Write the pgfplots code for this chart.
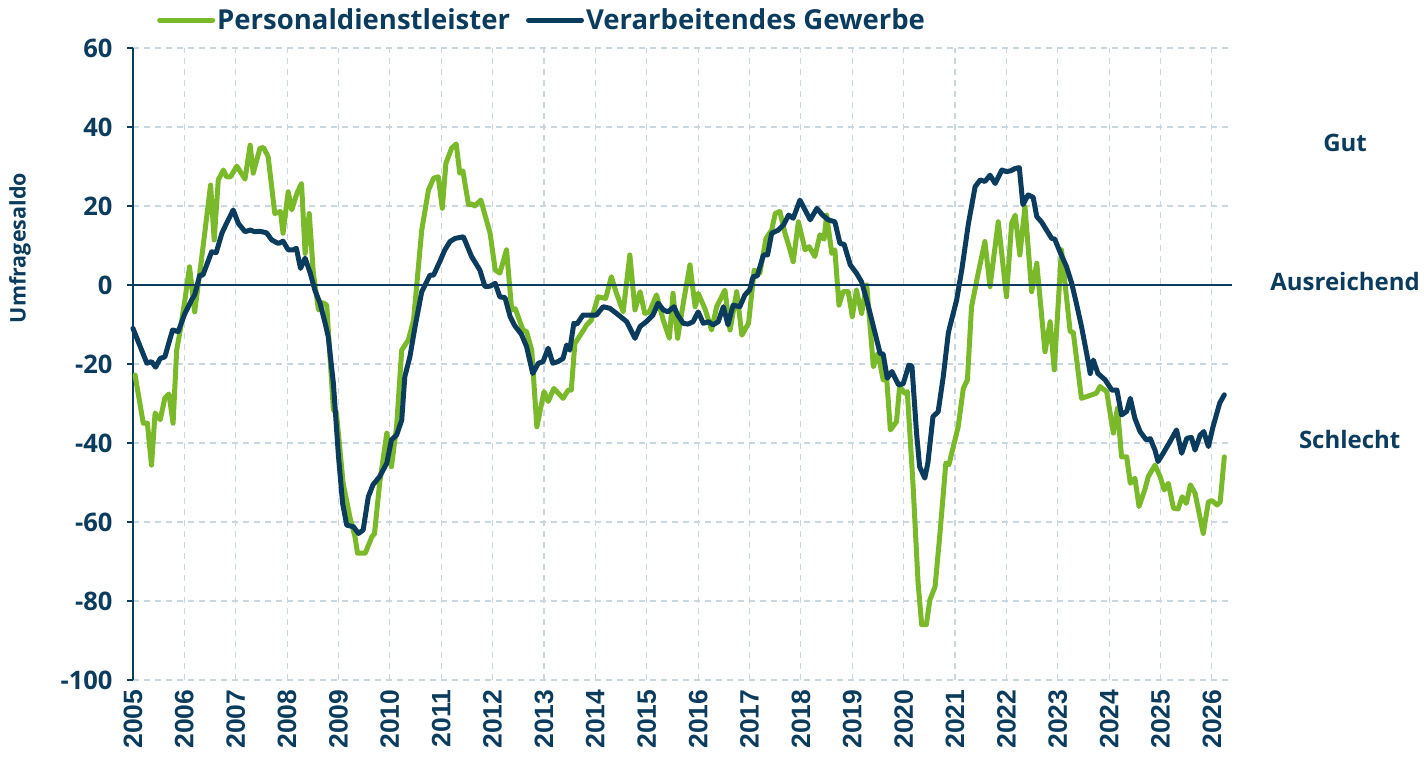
\documentclass[border=0pt]{standalone}
\usepackage{pgfplots}
\pgfplotsset{compat=1.18}
\usepackage{fontspec}
\setmainfont{Open Sans}
\newfontfamily\libsans{Liberation Sans}
\definecolor{navy}{HTML}{0B3C5D}
\definecolor{lgreen}{HTML}{7AB929}
\definecolor{gridc}{HTML}{C9D7E1}
\begin{document}
\begin{tikzpicture}[x=1bp,y=1bp]
\useasboundingbox (0,0) rectangle (1424,756);
\begin{axis}[
  at={(133bp,76bp)}, anchor=south west,
  scale only axis, width=1099bp, height=632bp,
  xmin=2005, xmax=2026.39, ymin=-100, ymax=60,
  xtick={2005,...,2026}, ytick={-100,-80,...,60},
  axis x line*=bottom, axis y line*=left,
  x axis line style={draw=none},
  y axis line style={draw=navy, line width=1.5bp},
  xtick style={draw=none},
  ytick style={draw=navy, line width=1.3bp},
  tick align=outside, major tick length=6bp,
  grid=major,
  major grid style={color=gridc, line width=1.2bp, dash pattern=on 6bp off 5bp},
  /pgf/number format/assume math mode=true,
  /pgf/number format/1000 sep={},
  xticklabel style={rotate=90, anchor=east, text=navy, font=\libsans\bfseries\fontsize{26.5bp}{26.5bp}\selectfont},
  yticklabel style={text=navy, xshift=-11bp, font=\bfseries\fontsize{25.5bp}{25.5bp}\selectfont},
  ylabel={Umfragesaldo},
  ylabel style={at={(axis description cs:-0.1028,0.6835)}, anchor=center, text=navy, font=\bfseries\fontsize{21.5bp}{21.5bp}\selectfont},
  clip=false,
  legend columns=2,
  legend style={at={(axis description cs:0.0218,1.044)}, anchor=west, draw=none, fill=none, inner sep=0pt, text=navy, font=\bfseries\fontsize{27.5bp}{27.5bp}\selectfont, /tikz/every even column/.append style={column sep=14bp}},
  legend image code/.code={\draw[#1, line width=5bp] (0bp,0bp) -- (53bp,0bp);},
  every axis plot/.append style={line width=5bp, line join=round, line cap=round},
]
\addplot[lgreen] coordinates {
(2005.04,-22.8) (2005.2,-35) (2005.28,-35) (2005.36,-45.6) (2005.43,-32.4) (2005.53,-34.1) (2005.62,-28.6) (2005.7,-27.6) (2005.78,-35) (2005.85,-16.5) (2005.92,-11.4) (2006.01,-3.8) (2006.1,4.6) (2006.2,-6.8) (2006.34,7.2) (2006.51,25.3) (2006.58,11.4) (2006.66,26.6) (2006.76,29.1) (2006.82,27.4) (2006.9,27.4) (2007.02,30.1) (2007.18,26.8) (2007.28,35.4) (2007.34,28.3) (2007.47,34.6) (2007.54,34.8) (2007.63,32.5) (2007.76,18.1) (2007.87,18.6) (2007.92,13.1) (2008.02,23.6) (2008.09,19) (2008.19,23.2) (2008.28,25.7) (2008.35,8.0) (2008.43,18.1) (2008.51,3.0) (2008.61,-6.3) (2008.7,-4.5) (2008.77,-5.1) (2008.9,-31.6) (2008.96,-32.5) (2009.09,-50.2) (2009.22,-58.7) (2009.32,-63.7) (2009.37,-67.9) (2009.52,-67.9) (2009.65,-63.7) (2009.7,-63) (2009.8,-50.2) (2009.94,-37.5) (2010.03,-46) (2010.13,-35.9) (2010.23,-16.5) (2010.36,-13.9) (2010.46,-8.9) (2010.62,13.9) (2010.75,24) (2010.85,27) (2010.94,27.4) (2011.02,19.4) (2011.09,30.8) (2011.2,34.6) (2011.29,35.7) (2011.36,28.3) (2011.42,28.9) (2011.53,20.3) (2011.6,20.5) (2011.65,20) (2011.77,21.5) (2011.95,13.1) (2012.05,3.8) (2012.14,3.0) (2012.27,8.9) (2012.37,-6.3) (2012.44,-6.0) (2012.59,-11.4) (2012.66,-11.8) (2012.76,-16.5) (2012.86,-35.9) (2013.0,-27) (2013.08,-29.5) (2013.19,-26.2) (2013.25,-27) (2013.37,-28.7) (2013.47,-26.6) (2013.53,-26.6) (2013.6,-14.8) (2013.73,-12.2) (2013.83,-10.1) (2013.92,-8.9) (2014.05,-3.0) (2014.12,-3.2) (2014.2,-3.4) (2014.31,2.1) (2014.41,-2.1) (2014.54,-6.8) (2014.67,7.6) (2014.77,-6.3) (2014.87,-1.7) (2014.96,-7.2) (2015.05,-6.8) (2015.19,-2.5) (2015.32,-8.9) (2015.44,-13.5) (2015.51,-2.1) (2015.6,-13.5) (2015.71,-4.6) (2015.84,5.1) (2015.94,-5.5) (2016.0,-2.1) (2016.14,-6.3) (2016.26,-11.4) (2016.36,-5.5) (2016.52,-1.3) (2016.62,-11.4) (2016.75,-1.7) (2016.85,-12.7) (2016.98,-9.7) (2017.09,3.8) (2017.2,3.0) (2017.32,11.8) (2017.43,13.9) (2017.5,18.1) (2017.59,18.6) (2017.69,13.1) (2017.76,10.1) (2017.85,5.9) (2017.95,16) (2018.08,8.9) (2018.16,9.7) (2018.27,7.2) (2018.37,12.7) (2018.45,11.6) (2018.5,17.7) (2018.6,8.0) (2018.66,8.9) (2018.74,-5.1) (2018.82,-1.7) (2018.92,-1.7) (2019.0,-8.0) (2019.08,-1.3) (2019.18,-7.2) (2019.28,0) (2019.41,-20.7) (2019.5,-17.3) (2019.6,-24) (2019.67,-24) (2019.74,-36.7) (2019.86,-34.6) (2019.92,-25.7) (2020.02,-27.4) (2020.07,-27) (2020.18,-50.2) (2020.28,-75.5) (2020.35,-86) (2020.44,-86) (2020.51,-79.7) (2020.61,-76.4) (2020.7,-63.7) (2020.82,-45.1) (2020.88,-45.5) (2021.06,-35.9) (2021.16,-26.2) (2021.24,-24) (2021.32,-5.5) (2021.45,3.0) (2021.58,11) (2021.68,-0.4) (2021.84,16) (2022.0,-3.0) (2022.1,15.6) (2022.17,17.7) (2022.26,7.6) (2022.36,19.8) (2022.49,-1.7) (2022.59,5.5) (2022.75,-16.9) (2022.85,-9.3) (2022.93,-21.5) (2023.07,8.9) (2023.24,-11.8) (2023.3,-12) (2023.46,-28.7) (2023.75,-27.4) (2023.82,-25.7) (2023.95,-27) (2024.08,-37.5) (2024.16,-31.2) (2024.24,-43.5) (2024.34,-43.5) (2024.41,-50.2) (2024.5,-48.9) (2024.58,-56.1) (2024.7,-51.5) (2024.76,-48.5) (2024.89,-45.6) (2024.99,-48.5) (2025.07,-51.9) (2025.15,-50.2) (2025.25,-56.5) (2025.34,-56.7) (2025.42,-53.6) (2025.5,-55.3) (2025.58,-50.6) (2025.67,-52.7) (2025.83,-62.9) (2025.93,-54.9) (2026.0,-54.6) (2026.1,-55.7) (2026.16,-54.9) (2026.24,-43.5)
};
\addlegendentry{Personaldienstleister}
\addplot[navy] coordinates {
(2005.0,-11) (2005.14,-15.6) (2005.27,-19.8) (2005.36,-19.4) (2005.44,-20.8) (2005.53,-18.6) (2005.62,-18.2) (2005.77,-11.4) (2005.88,-11.8) (2006.01,-7.2) (2006.14,-3.8) (2006.2,-2.5) (2006.3,2.5) (2006.36,2.5) (2006.47,6.3) (2006.53,8.4) (2006.62,8.2) (2006.73,13.1) (2006.82,15.6) (2006.95,19) (2007.05,15.6) (2007.18,13.5) (2007.28,13.9) (2007.37,13.5) (2007.47,13.6) (2007.6,13.2) (2007.7,11.4) (2007.83,10.5) (2007.92,11.1) (2008.02,8.9) (2008.12,8.9) (2008.18,9.3) (2008.26,4.2) (2008.35,6.8) (2008.45,3.0) (2008.54,-1.3) (2008.64,-4.6) (2008.74,-9.7) (2008.8,-13.1) (2008.9,-24.9) (2009.0,-43.5) (2009.08,-55.3) (2009.16,-60.8) (2009.29,-61.2) (2009.39,-62.9) (2009.48,-62) (2009.58,-53.6) (2009.67,-50.6) (2009.8,-48.5) (2009.94,-45.1) (2010.03,-39.2) (2010.13,-38) (2010.23,-34.2) (2010.29,-23.2) (2010.39,-18.1) (2010.49,-10.5) (2010.62,-1.7) (2010.78,2.5) (2010.85,2.5) (2010.97,5.9) (2011.07,8.9) (2011.17,11) (2011.27,11.8) (2011.43,12.2) (2011.59,7.2) (2011.75,3.8) (2011.85,-0.4) (2011.95,-0.3) (2012.05,0.4) (2012.14,-3.0) (2012.24,-3.2) (2012.34,-8.0) (2012.43,-10.3) (2012.56,-12.5) (2012.66,-15.6) (2012.78,-22.4) (2012.89,-19.8) (2012.98,-19.4) (2013.08,-16) (2013.17,-19.8) (2013.27,-19.4) (2013.37,-18.6) (2013.44,-15.2) (2013.5,-16.5) (2013.58,-9.7) (2013.64,-9.9) (2013.76,-7.6) (2013.89,-7.6) (2014.02,-7.6) (2014.15,-5.5) (2014.28,-5.9) (2014.45,-7.6) (2014.61,-9.3) (2014.77,-13.5) (2014.87,-10.5) (2014.99,-9.3) (2015.12,-7.6) (2015.22,-4.6) (2015.32,-6.3) (2015.41,-6.8) (2015.53,-5.5) (2015.6,-7.6) (2015.71,-9.7) (2015.8,-9.9) (2015.9,-9.3) (2016.0,-6.8) (2016.1,-9.7) (2016.2,-9.3) (2016.29,-10.1) (2016.39,-9.3) (2016.49,-5.5) (2016.58,-10.1) (2016.68,-5.1) (2016.81,-5.5) (2016.91,-2.5) (2017.0,-1.3) (2017.07,2.1) (2017.15,2.3) (2017.27,7.6) (2017.35,7.6) (2017.43,13.1) (2017.56,13.9) (2017.66,15.2) (2017.76,17.7) (2017.85,16.9) (2017.98,21.5) (2018.08,19) (2018.18,16.5) (2018.31,19.4) (2018.42,17.7) (2018.53,16.5) (2018.66,16) (2018.76,10.5) (2018.84,10.3) (2018.96,5.1) (2019.08,3.0) (2019.18,0.8) (2019.28,-3.8) (2019.41,-10.5) (2019.54,-17.3) (2019.6,-17.5) (2019.68,-23.6) (2019.77,-21.9) (2019.9,-25.3) (2019.99,-25) (2020.1,-20.3) (2020.16,-20.5) (2020.25,-37.5) (2020.31,-46) (2020.41,-48.9) (2020.47,-45.1) (2020.57,-33.3) (2020.67,-32.1) (2020.77,-23.2) (2020.87,-12) (2021.03,-3.8) (2021.13,3.8) (2021.26,15.6) (2021.39,24.9) (2021.49,26.6) (2021.58,26.2) (2021.68,27.8) (2021.78,25.7) (2021.91,29.1) (2022.0,28.7) (2022.08,28.9) (2022.17,29.5) (2022.25,29.7) (2022.32,20.3) (2022.42,22.8) (2022.52,22.2) (2022.59,17.3) (2022.68,16) (2022.78,13.9) (2022.88,11.8) (2022.94,11.6) (2023.04,8.4) (2023.17,4.6) (2023.27,0.4) (2023.36,-4.6) (2023.46,-10.5) (2023.56,-17.3) (2023.63,-22.4) (2023.69,-19) (2023.78,-22.4) (2023.92,-24) (2024.05,-26.6) (2024.15,-26.6) (2024.24,-32.9) (2024.34,-32) (2024.41,-28.7) (2024.5,-33.8) (2024.6,-37.1) (2024.72,-39.2) (2024.8,-38.9) (2024.89,-41.8) (2024.95,-44.7) (2025.05,-42.6) (2025.18,-39.7) (2025.31,-36.7) (2025.41,-42.6) (2025.51,-38.8) (2025.6,-38.6) (2025.67,-41.8) (2025.77,-38) (2025.84,-37.1) (2025.93,-40.9) (2026.02,-35.9) (2026.15,-29.9) (2026.24,-27.8)
};
\addlegendentry{Verarbeitendes Gewerbe}
\addplot[navy, line width=1.5bp, line cap=butt, forget plot] coordinates {(2005,0) (2026.39,0)};
\node[text=navy, font=\bfseries\fontsize{24bp}{24bp}\selectfont] at (axis cs:2028.59,36) {Gut};
\node[text=navy, font=\bfseries\fontsize{24bp}{24bp}\selectfont] at (axis cs:2028.59,0.8) {Ausreichend};
\node[text=navy, font=\bfseries\fontsize{24bp}{24bp}\selectfont] at (axis cs:2028.68,-39) {Schlecht};
\end{axis}
\end{tikzpicture}
\end{document}
